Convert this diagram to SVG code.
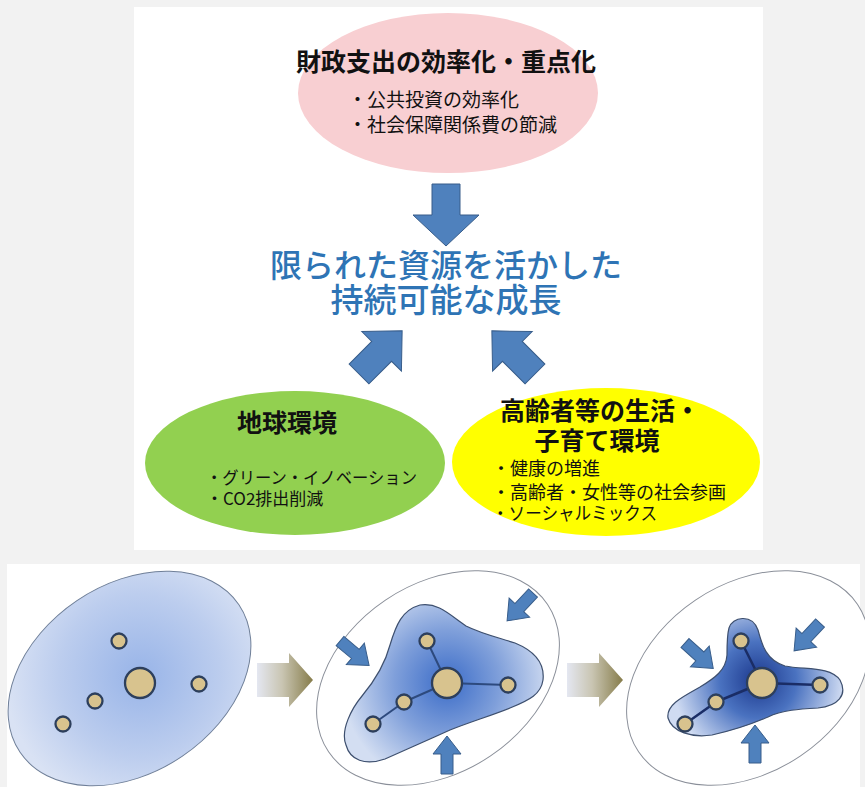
<svg xmlns="http://www.w3.org/2000/svg" width="865" height="787" viewBox="0 0 865 787">
<style>
.t{font-family:"Noto Sans CJK JP","Noto Sans CJK SC",sans-serif;fill:#111}
.b{font-weight:bold}
.blue{fill:#2e74b5;font-weight:500}
.arrow{fill:#4f81bd;stroke:#385d8a;stroke-width:1}
.node{fill:#d8c38e;stroke:#2d3f5c;stroke-width:2.3}
.link2{stroke:#2d4a7e;stroke-width:2;fill:none}
.link3{stroke:#1a2d66;stroke-width:2.5;fill:none}
.outer{fill:#fff;stroke:#8a8f99;stroke-width:1}
</style>
<defs>
<path id="downArrow" d="M0,-14 L31,-14 L31,-33 L62,0 L31,33 L31,14 L0,14 Z"/>
<path id="diagArrow" d="M0,-14 L32,-14 L32,-28 L61,0 L32,28 L32,14 L0,14 Z"/>
<path id="smallArrow" d="M0,-6 L20,-6 L20,-14 L38,0 L20,14 L20,6 L0,6 Z"/>
<path id="grayArrow" d="M0,-17 L32,-17 L32,-27 L56,0 L32,27 L32,17 L0,17 Z"/>
<linearGradient id="gGray" x1="0" y1="0" x2="1" y2="0">
<stop offset="0" stop-color="#e4e7f1"/>
<stop offset="0.45" stop-color="#c9c5b2"/>
<stop offset="1" stop-color="#867c4a"/>
</linearGradient>
<radialGradient id="g1" gradientUnits="userSpaceOnUse" cx="140" cy="682" r="135">
<stop offset="0" stop-color="#98b4e8"/>
<stop offset="0.6" stop-color="#bccdee"/>
<stop offset="1" stop-color="#d9e2f4"/>
</radialGradient>
<radialGradient id="g2" gradientUnits="userSpaceOnUse" cx="447" cy="683" r="105">
<stop offset="0" stop-color="#3b6cc8"/>
<stop offset="0.5" stop-color="#7f9fda"/>
<stop offset="1" stop-color="#d3def2"/>
</radialGradient>
<radialGradient id="g3" gradientUnits="userSpaceOnUse" cx="758" cy="680" r="85">
<stop offset="0" stop-color="#1b378c"/>
<stop offset="0.45" stop-color="#4a72c0"/>
<stop offset="1" stop-color="#cfdbf2"/>
</radialGradient>
</defs>

<rect x="0" y="0" width="865" height="787" fill="#f2f2f2"/>
<rect x="134" y="7" width="629" height="543" fill="#ffffff"/>
<rect x="7" y="564" width="853" height="223" fill="#ffffff"/>

<g id="node-fiscal">
<ellipse cx="448" cy="93" rx="150" ry="80" fill="#f8cfd2"/>
<text class="t b" x="446" y="71" font-size="25" text-anchor="middle">財政支出の効率化・重点化</text>
<text class="t" x="348" y="107" font-size="19">・公共投資の効率化</text>
<text class="t" x="348" y="132" font-size="19">・社会保障関係費の節減</text>
</g>

<g id="node-growth">
<text class="t blue" x="446" y="277" font-size="32" text-anchor="middle">限られた資源を活かした</text>
<text class="t blue" x="446" y="312" font-size="33" text-anchor="middle">持続可能な成長</text>
</g>

<g id="node-env">
<ellipse cx="295" cy="463" rx="150" ry="72" fill="#92d050"/>
<text class="t b" x="287" y="432" font-size="25" text-anchor="middle">地球環境</text>
<text class="t" x="206" y="484" font-size="17" textLength="211" lengthAdjust="spacingAndGlyphs">・グリーン・イノベーション</text>
<text class="t" x="206" y="505" font-size="17">・CO2排出削減</text>
</g>

<g id="node-life">
<ellipse cx="606" cy="462" rx="154" ry="74" fill="#ffff00"/>
<text class="t b" x="500" y="420" font-size="25">高齢者等の生活・</text>
<text class="t b" x="597" y="450" font-size="25" text-anchor="middle">子育て環境</text>
<text class="t" x="492" y="475" font-size="18">・健康の増進</text>
<text class="t" x="492" y="499" font-size="18">・高齢者・女性等の社会参画</text>
<text class="t" x="492" y="520" font-size="18" textLength="165" lengthAdjust="spacingAndGlyphs">・ソーシャルミックス</text>
</g>

<g id="connectors">
<use href="#downArrow" class="arrow" transform="translate(446,184) rotate(90)"/>
<use href="#diagArrow" class="arrow" transform="translate(359,374) rotate(-45)"/>
<use href="#diagArrow" class="arrow" transform="translate(535,374) rotate(-135)"/>
<use href="#grayArrow" fill="url(#gGray)" transform="translate(257,680)"/>
<use href="#grayArrow" fill="url(#gGray)" transform="translate(567,680)"/>
</g>

<g id="stage1">
<ellipse cx="129.5" cy="678.5" rx="132" ry="94" transform="rotate(-34 129.5 678.5)" fill="url(#g1)" stroke="#6f7f98" stroke-width="1"/>
<circle class="node" cx="119" cy="641" r="7.5"/>
<circle class="node" cx="140" cy="683" r="15"/>
<circle class="node" cx="95" cy="701" r="7.5"/>
<circle class="node" cx="63" cy="724" r="7.5"/>
<circle class="node" cx="199" cy="684" r="7.5"/>
</g>

<g id="stage2">
<ellipse class="outer" cx="438" cy="678" rx="132" ry="94" transform="rotate(-34 438 678)"/>
<path fill="url(#g2)" stroke="#3d4f6e" stroke-width="1.2" d="M346,745 C340,730 352,708 362,696 C372,684 384,668 390,645 C396,625 402,610 420,605 C438,602 450,615 466,626 C482,634 500,638 515,643 C532,650 545,662 543,680 C541,694 530,700 510,708 C490,716 470,722 450,730 C428,740 405,750 385,759 C365,766 350,760 346,745 Z"/>
<g class="link2"><line x1="447" y1="683" x2="427" y2="641"/><line x1="447" y1="683" x2="508" y2="685"/><line x1="447" y1="683" x2="404" y2="702"/><line x1="404" y1="702" x2="373" y2="724"/></g>
<circle class="node" cx="427" cy="641" r="7.5"/>
<circle class="node" cx="447" cy="683" r="15"/>
<circle class="node" cx="508" cy="685" r="7.5"/>
<circle class="node" cx="404" cy="702" r="7.5"/>
<circle class="node" cx="373" cy="724" r="7.5"/>
<use href="#smallArrow" class="arrow" transform="translate(340,641) rotate(40)"/>
<use href="#smallArrow" class="arrow" transform="translate(533,593) rotate(133)"/>
<use href="#smallArrow" class="arrow" transform="translate(447,774) rotate(-90)"/>
</g>

<g id="stage3">
<ellipse class="outer" cx="748" cy="678" rx="132" ry="94" transform="rotate(-34 748 678)"/>
<path fill="url(#g3)" stroke="#3d4f6e" stroke-width="1.2" d="M729,628 C732,617 752,613 758,630 C762,645 766,660 785,666 C805,670 830,666 840,680 C848,695 838,706 818,708 C800,709 782,710 768,717 C752,724 735,730 712,735 C692,738 672,732 668,718 C666,705 682,697 700,687 C715,678 726,670 727,655 C727,645 727,635 729,628 Z"/>
<g class="link3"><line x1="762" y1="683" x2="741" y2="641"/><line x1="762" y1="683" x2="820" y2="685"/><line x1="762" y1="683" x2="716" y2="702"/><line x1="716" y1="702" x2="685" y2="724"/></g>
<circle class="node" cx="741" cy="641" r="7.5"/>
<circle class="node" cx="762" cy="683" r="15"/>
<circle class="node" cx="820" cy="685" r="7.5"/>
<circle class="node" cx="716" cy="702" r="7.5"/>
<circle class="node" cx="685" cy="724" r="7.5"/>
<use href="#smallArrow" class="arrow" transform="translate(685,643) rotate(42)"/>
<use href="#smallArrow" class="arrow" transform="translate(820,623) rotate(133)"/>
<use href="#smallArrow" class="arrow" transform="translate(755,763) rotate(-90)"/>
</g>
</svg>
